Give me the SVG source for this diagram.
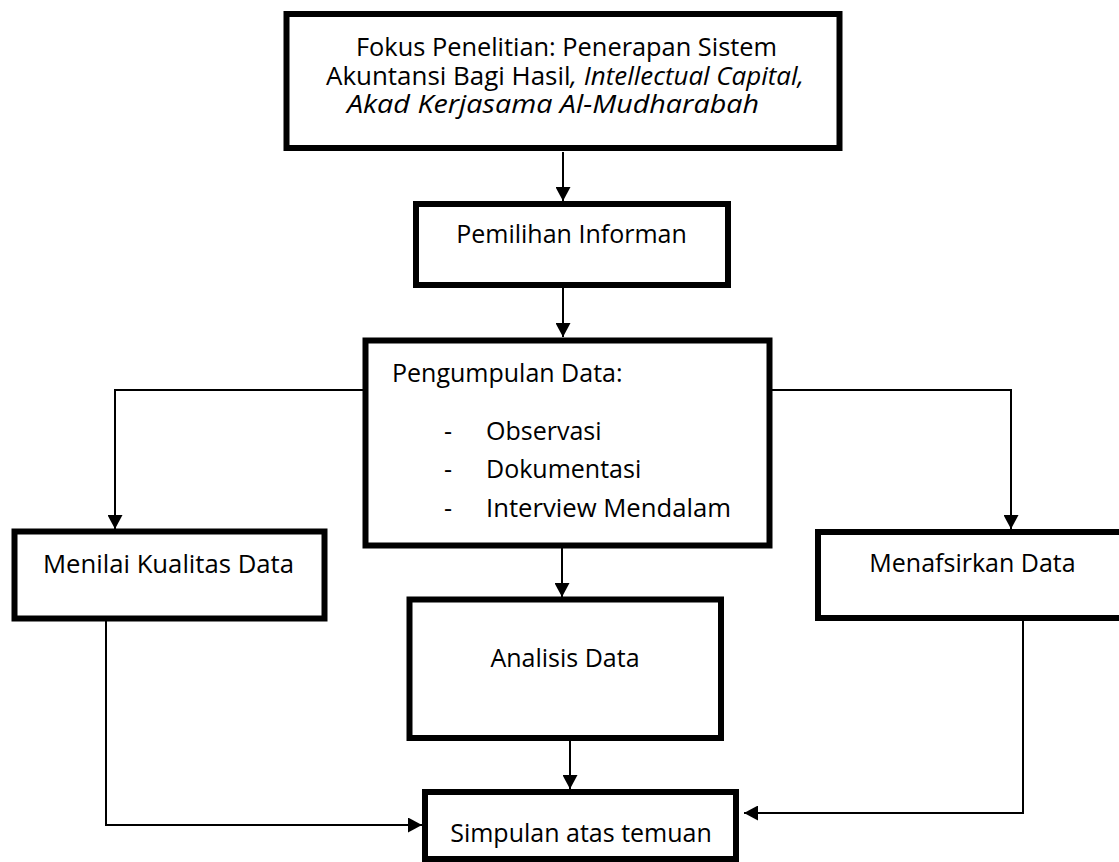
<svg xmlns="http://www.w3.org/2000/svg" width="1119" height="862" viewBox="0 0 1119 862">
<defs>
<style>
.box{fill:#fff;stroke:#000;stroke-width:6}
.t{font-family:"Open Sans","Noto Sans",sans-serif;font-size:25px;fill:#000}
.it{font-style:italic}
.c{fill:none;stroke:#000;stroke-width:2}
</style>
<marker id="ah" markerUnits="userSpaceOnUse" markerWidth="15" markerHeight="15" refX="14" refY="7.5" orient="auto" viewBox="0 0 15 15">
<path d="M0,0 L14,7.5 L0,15 z" fill="#000"/>
</marker>
</defs>
<rect width="1119" height="862" fill="#fff"/>
<g id="connectors">
<path class="c" d="M563,152 L563,201" marker-end="url(#ah)"/>
<path class="c" d="M563,288 L563,337" marker-end="url(#ah)"/>
<path class="c" d="M363,390 L115,390 L115,529" marker-end="url(#ah)"/>
<path class="c" d="M772,390 L1011,390 L1011,529" marker-end="url(#ah)"/>
<path class="c" d="M562,548 L562,597" marker-end="url(#ah)"/>
<path class="c" d="M570,741 L570,789" marker-end="url(#ah)"/>
<path class="c" d="M106,621 L106,825 L422,825" marker-end="url(#ah)"/>
<path class="c" d="M1023,621 L1023,813 L744,813" marker-end="url(#ah)"/>
</g>
<g id="fokus">
<rect class="box" x="286.5" y="14" width="553" height="134"/>
<text class="t" x="356" y="56" textLength="421" lengthAdjust="spacingAndGlyphs">Fokus Penelitian: Penerapan Sistem</text>
<text class="t" x="326" y="85" textLength="478" lengthAdjust="spacingAndGlyphs">Akuntansi Bagi Hasil<tspan class="it">, Intellectual Capital,</tspan></text>
<text class="t it" x="347" y="113" textLength="412" lengthAdjust="spacingAndGlyphs">Akad Kerjasama Al-Mudharabah</text>
</g>
<g id="pemilihan">
<rect class="box" x="416" y="204" width="312" height="81"/>
<text class="t" text-anchor="middle" x="571.5" y="243">Pemilihan Informan</text>
</g>
<g id="pengumpulan">
<rect class="box" x="365.5" y="340.5" width="404" height="205"/>
<text class="t" x="392" y="382">Pengumpulan Data:</text>
<text class="t" x="444" y="440">-</text>
<text class="t" x="486" y="440">Observasi</text>
<text class="t" x="444" y="478">-</text>
<text class="t" x="486" y="478">Dokumentasi</text>
<text class="t" x="444" y="517">-</text>
<text class="t" x="486" y="517" textLength="245" lengthAdjust="spacingAndGlyphs">Interview Mendalam</text>
</g>
<g id="menilai">
<rect class="box" x="14.5" y="531.5" width="310" height="87"/>
<text class="t" x="43" y="573" textLength="251" lengthAdjust="spacingAndGlyphs">Menilai Kualitas Data</text>
</g>
<g id="menafsirkan">
<rect class="box" x="818" y="532" width="310" height="86"/>
<text class="t" text-anchor="middle" x="972.5" y="572">Menafsirkan Data</text>
</g>
<g id="analisis">
<rect class="box" x="409.5" y="599.5" width="311.5" height="138.5"/>
<text class="t" text-anchor="middle" x="565" y="667">Analisis Data</text>
</g>
<g id="simpulan">
<rect class="box" x="425" y="792" width="311" height="67"/>
<text class="t" text-anchor="middle" x="581" y="842">Simpulan atas temuan</text>
</g>
</svg>
